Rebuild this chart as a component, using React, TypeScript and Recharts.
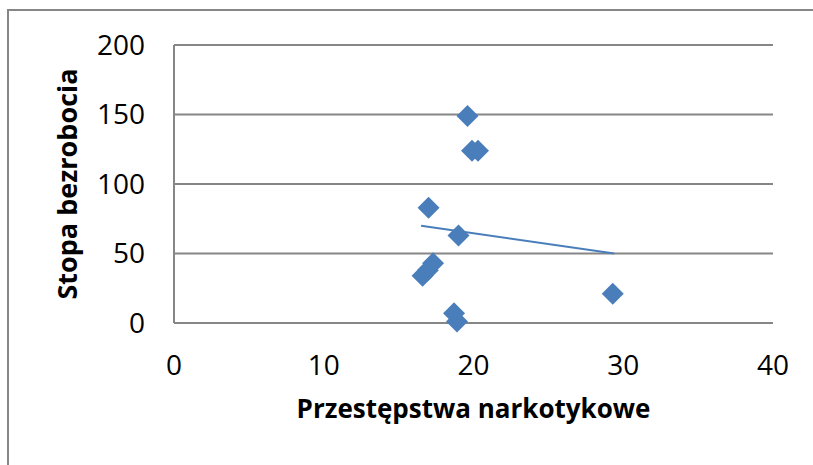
import { ScatterChart, Scatter, XAxis, YAxis, CartesianGrid, Label } from 'recharts';

// crimes vs unemployment
const drugCrimes = [19.6, 19.9, 20.3, 17.0, 19.0, 17.3, 16.95, 16.6, 18.7, 18.9, 29.3];
const unemployment = [149, 124, 124, 83, 63, 43, 38, 34, 7, 1, 21];

// linear trend endpoints
const trendX = [16.5, 29.4];
const trendY = [70, 50];

const xTicks = [0, 10, 20, 30, 40];
const yTicks = [0, 50, 100, 150, 200];

const points = drugCrimes.map((x, i) => ({ x, y: unemployment[i] }));
const trend = trendX.map((x, i) => ({ x, y: trendY[i] }));

const BLUE = '#4A7EBB';
const GRID = '#868686';
const FONT = '"Open Sans", sans-serif';

const Diamond = (props: any) => {
  const { cx, cy } = props;
  const r = 11;
  return (
    <polygon
      points={`${cx},${cy - r} ${cx + r},${cy} ${cx},${cy + r} ${cx - r},${cy}`}
      fill={BLUE}
    />
  );
};

export default function App() {
  return (
    <div style={{ position: 'absolute', left: 0, top: 0, width: 813, height: 465, background: '#fff', overflow: 'hidden' }}>
      {/* chart frame */}
      <div
        style={{
          position: 'absolute',
          left: 7,
          top: 9,
          width: 900,
          height: 600,
          borderLeft: `2px solid ${GRID}`,
          borderTop: `2px solid ${GRID}`,
        }}
      />
      <ScatterChart
        width={813}
        height={465}
        margin={{ top: 45, right: 40, bottom: 0, left: 0 }}
        style={{ position: 'absolute', left: 0, top: 0 }}
      >
        <CartesianGrid vertical={false} stroke={GRID} strokeWidth={2} />
        <XAxis
          type="number"
          dataKey="x"
          domain={[0, 40]}
          ticks={xTicks}
          axisLine={false}
          tickLine={false}
          tickSize={0}
          tickMargin={32}
          height={142}
          tick={{ fontSize: 28, fill: '#000', fontFamily: FONT }}
        >
          <Label
            value="Przestępstwa narkotykowe"
            position="insideTop"
            offset={77}
            style={{ fontSize: 26, fontWeight: 700, fill: '#000', fontFamily: FONT }}
          />
        </XAxis>
        <YAxis
          type="number"
          dataKey="y"
          domain={[0, 200]}
          ticks={yTicks}
          width={174}
          axisLine={{ stroke: GRID, strokeWidth: 2 }}
          tickLine={false}
          tickSize={0}
          tickMargin={29}
          tick={{ fontSize: 28, fill: '#000', fontFamily: FONT }}
        >
          <Label
            value="Stopa bezrobocia"
            angle={-90}
            position="insideLeft"
            offset={67}
            style={{ textAnchor: 'middle', fontSize: 27, fontWeight: 700, fill: '#000', fontFamily: FONT }}
          />
        </YAxis>
        <Scatter data={points} shape={Diamond} isAnimationActive={false} />
        <Scatter
          data={trend}
          line={{ stroke: BLUE, strokeWidth: 2 }}
          shape={() => null}
          isAnimationActive={false}
        />
      </ScatterChart>
    </div>
  );
}
